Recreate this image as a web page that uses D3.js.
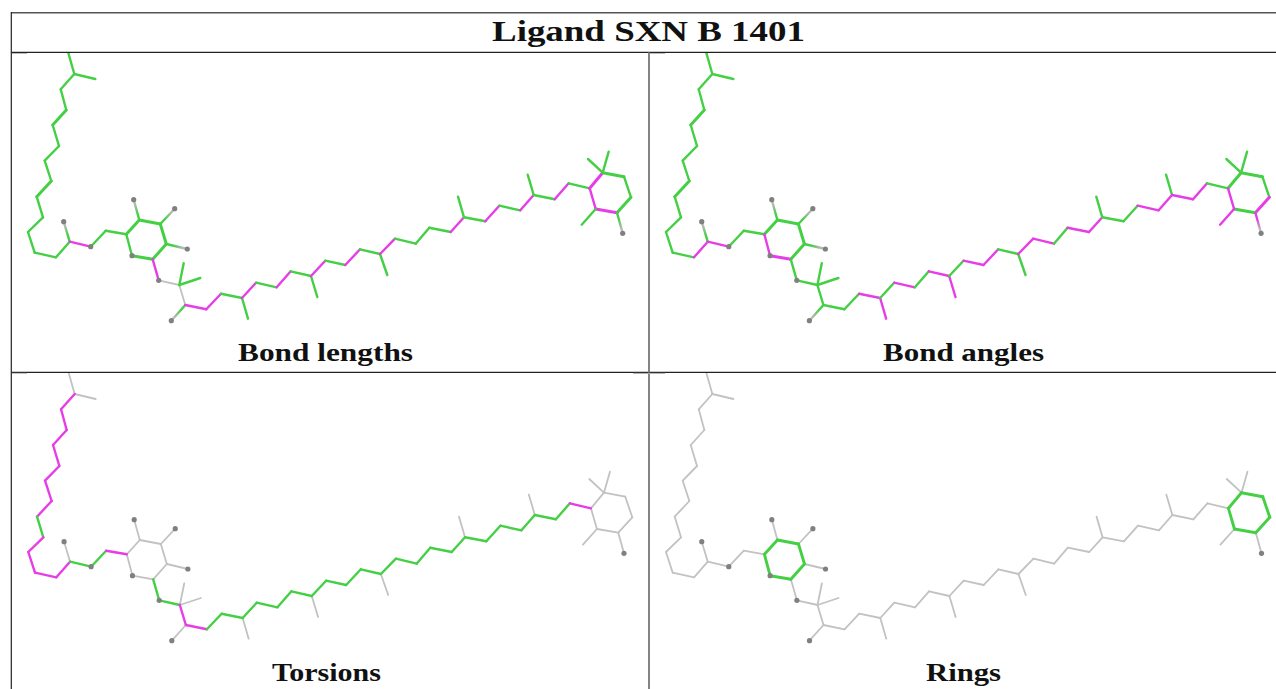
<!DOCTYPE html>
<html>
<head>
<meta charset="utf-8">
<script src="https://cdn.jsdelivr.net/npm/d3@7/dist/d3.min.js"></script>
<style>
html,body{margin:0;padding:0;background:#fff;overflow:hidden}
svg{display:block}
text{font-family:"Liberation Serif",serif;font-weight:700;fill:#111}
</style>
</head>
<body>
<script>
// Molecule, in reference pixels
const atomX = [67.5,74.3,95.3,60.7,66.3,52.7,59,44.7,51.3,36.7,43,28,34.7,56,69.7,63.7,90.7,105.7,126.3,139.3,160.3,166.3,152.7,132,133.7,174.7,187.3,158.7,179.3,183.7,200.3,185.3,171.3,206.3,221,242,248,256,276.7,290.7,311,317.3,325.3,345.3,360,380,387.3,395,415.7,429.3,450.7,464,458,485.3,499.3,520.3,533.7,527.7,554.7,568.7,589.7,602.7,624,631,617,595.7,608.7,588,581.7,622.7];
const atomY = [50,74,79,89.3,110,125,146,160.7,181,196.7,217.3,232,252.7,257.3,241.7,221.7,246.7,230.7,234.3,220,224,244,259.3,255.7,199.7,208.7,249,280.3,285,263.3,278,305,320.7,309.3,293.7,298,318.7,282.7,287.3,271.3,276,297,260.7,265,249.3,254,275,238.7,243.7,227.7,232,217.3,196.7,221.3,205.7,210.3,195,174.7,199.3,183.3,188.3,172.7,176.7,197.3,212.7,209,151.7,159,224.7,233.3];
const bondFrom = [0,1,1,3,4,5,6,7,8,9,10,11,12,13,14,14,16,17,18,19,20,21,22,23,19,20,21,22,27,28,28,28,31,31,33,34,35,35,37,38,39,40,40,42,43,44,45,45,47,48,49,50,51,51,53,54,55,56,56,58,59,60,61,62,63,64,65,61,61,65,64];
const bondTo   = [1,2,3,4,5,6,7,8,9,10,11,12,13,14,15,16,17,18,19,20,21,22,23,18,24,25,26,27,28,29,30,31,32,33,34,35,36,37,38,39,40,41,42,43,44,45,46,47,48,49,50,51,52,53,54,55,56,57,58,59,60,61,62,63,64,65,60,66,67,68,69];
const greyAtoms = [15,16,23,24,25,26,27,32,69];
const doubleBonds = [4,8,18,19,20,21,22,61,62,64,65];

const panelTitles = ["Bond lengths","Bond angles","Torsions","Rings"];
const chartTitle = "Ligand SXN B 1401";
// g ok, m outlier, n not assessed, f / h fade to the grey atom
const statusLengths = "gggggggggg"+"ggggfmgggg"+"ggggfffmng"+"gnfmmggmgm"+"ggmgmggmgg"+"gmggmgmggm"+"gmgggmmgggf";
const statusAngles  = "gggggggggg"+"gggmfmgggg"+"ggmmfffggg"+"ggfggmmgmg"+"mmgmmggmmg"+"mmgggmmgmm"+"ggggmgmggmh";
const statusTorsion = "nnmmmmmmmg"+"mmmmnggmnn"+"nnnnnnnggn"+"nmnmggnggg"+"gnggggnggg"+"ggnggggngg"+"mnnnnnnnnnn";
const statusRings   = "nnnnnnnnnn"+"nnnnnnnngg"+"ggggnnnnnn"+"nnnnnnnnnn"+"nnnnnnnnnn"+"nnnnnnnnnn"+"nggggggnnnn";
const panelStatus = [statusLengths,statusAngles,statusTorsion,statusRings];

// Layout
const W = 1276, H = 689;
const colLeft = [12,649.5], rowTop = [53,373];
const shift = [
  {x0:0,x1:0,y:0},{x0:638,x1:638.4,y:0},
  {x0:0.3,x1:1.3,y:320},{x0:638,x1:638.8,y:320}
];
const colour = d3.scaleOrdinal().domain(["g","m","n"]).range(["#45cf45","#e63de6","#c2c2c2"]);
const fadeEnd = "#b9b9b9";
const titleCx = [325.5,963.5,326.5,963.5], titleY = [361,361,681,681], titleW = [175,161,109,75];

const svg = d3.select("body").append("svg").attr("width",W).attr("height",H);
const defs = svg.append("defs");
const blur = defs.append("filter").attr("id","soft").attr("filterUnits","userSpaceOnUse")
  .attr("x",0).attr("y",0).attr("width",W).attr("height",H);
blur.append("feGaussianBlur").attr("stdDeviation",0.6);

panelTitles.forEach((t,p)=>{
  const col = p%2, row = p>>1;
  const left = colLeft[col], top = rowTop[row];
  const right = col?W:648, bottom = row?H:372;
  defs.append("clipPath").attr("id","c"+p).append("rect")
    .attr("x",left).attr("y",top).attr("width",right-left).attr("height",bottom-top);
  const s = shift[p];
  const x = d3.scaleLinear().domain([28,631]).range([28+s.x0,631+s.x1]);
  const y = d3.scaleLinear().domain([0,1]).range([s.y,1+s.y]);
  const status = panelStatus[p];
  const g = svg.append("g").attr("clip-path",`url(#c${p})`).append("g").attr("filter","url(#soft)");
  const bonds = d3.range(bondFrom.length).map(i=>({i,a:bondFrom[i],b:bondTo[i],st:status[i]}));
  // grey first so that coloured bonds sit on top
  bonds.sort((u,v)=>(u.st==="n"?0:1)-(v.st==="n"?0:1));
  bonds.forEach(d=>{
    if(d.st==="f"||d.st==="h"){
      const ga = greyAtoms.includes(d.a)?d.a:d.b, ca = ga===d.a?d.b:d.a;
      const lg = defs.append("linearGradient").attr("id",`l${p}_${d.i}`).attr("gradientUnits","userSpaceOnUse")
        .attr("x1",x(atomX[ca])).attr("y1",y(atomY[ca])).attr("x2",x(atomX[ga])).attr("y2",y(atomY[ga]));
      const c = colour(d.st==="f"?"g":"m");
      lg.append("stop").attr("offset",0.3).attr("stop-color",c);
      lg.append("stop").attr("offset",0.8).attr("stop-color",fadeEnd);
    }
  });
  g.selectAll("line").data(bonds).join("line")
    .attr("x1",d=>x(atomX[d.a])).attr("y1",d=>y(atomY[d.a]))
    .attr("x2",d=>x(atomX[d.b])).attr("y2",d=>y(atomY[d.b]))
    .attr("stroke",d=>(d.st==="f"||d.st==="h")?`url(#l${p}_${d.i})`:colour(d.st))
    .attr("stroke-linecap","round")
    .attr("stroke-width",d=>{
      if(d.st==="n") return 1.8;
      return (p<2&&doubleBonds.includes(d.i))?3:(p===3?2.9:2.4);
    });
  g.selectAll("circle").data(greyAtoms).join("circle")
    .attr("cx",d=>x(atomX[d])).attr("cy",d=>y(atomY[d])).attr("r",2.6).attr("fill","#808080");
  svg.append("text").attr("x",titleCx[p]).attr("y",titleY[p]).attr("text-anchor","middle")
    .attr("font-size",25).attr("textLength",titleW[p]).attr("lengthAdjust","spacingAndGlyphs").text(t);
});

// Table rules
const rules = [
  [11,12.7,W,12.7,"#555",1.5],[11.3,12,11.3,H,"#222",1.2],
  [11,52.4,W,52.4,"#222",1.2],[11,372.4,W,372.4,"#222",1.2],
  [649,52,649,H,"#666",1.6],
  [12,53.5,27,53.5,"#bbb",1],[650,53.5,665,53.5,"#bbb",1],
  [12,373.4,27,373.4,"#bbb",1],[633,373.4,665,373.4,"#aaa",1]
];
svg.append("g").selectAll("line").data(rules).join("line")
  .attr("x1",d=>d[0]).attr("y1",d=>d[1]).attr("x2",d=>d[2]).attr("y2",d=>d[3])
  .attr("stroke",d=>d[4]).attr("stroke-width",d=>d[5]);
svg.append("text").attr("x",648.5).attr("y",41).attr("text-anchor","middle")
  .attr("font-size",30).attr("textLength",313).attr("lengthAdjust","spacingAndGlyphs").text(chartTitle);
</script>
</body>
</html>
